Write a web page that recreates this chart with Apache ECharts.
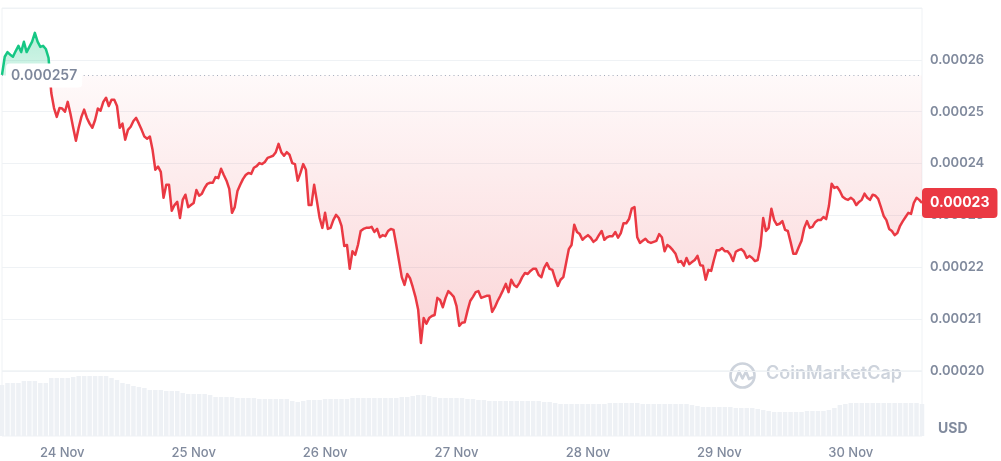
<!DOCTYPE html>
<html>
<head>
<meta charset="utf-8">
<script src="https://cdn.jsdelivr.net/npm/echarts@6/dist/echarts.min.js"></script>
<style>
  html, body { margin: 0; padding: 0; background: #ffffff; }
  #chart { width: 1001px; height: 461px; }
</style>
</head>
<body>
<div id="chart"></div>
<script>
// ---- Data ----
const tickLabels = ['24 Nov', '25 Nov', '26 Nov', '27 Nov', '28 Nov', '29 Nov', '30 Nov'];
const tickHours = [24, 48, 72, 96, 120, 144, 168];   // hours since 23 Nov 00:00
const startHour = 13;          // first sample: 23 Nov ~13:00
const endHour = 181;           // last sample: 30 Nov ~13:00
const priceStepHours = 0.5;    // one price sample every 30 minutes
const openPrice = 0.000257;    // reference (opening) price, dotted line

const prices = [
  2571e-7, 2606e-7, 2615e-7, 2610e-7, 2606e-7, 2617e-7, 2627e-7, 2615e-7, 2635e-7, 2615e-7,
  2625e-7, 2635e-7, 2652e-7, 2635e-7, 2625e-7, 2627e-7, 2621e-7, 2604e-7, 2536e-7, 2507e-7,
  2490e-7, 2507e-7, 2506e-7, 2500e-7, 2519e-7, 2496e-7, 2469e-7, 2444e-7, 2469e-7, 2490e-7,
  2504e-7, 2488e-7, 2477e-7, 2469e-7, 2484e-7, 2506e-7, 2502e-7, 2519e-7, 2527e-7, 2511e-7,
  2523e-7, 2523e-7, 2511e-7, 2469e-7, 2477e-7, 2446e-7, 2465e-7, 2471e-7, 2482e-7, 2488e-7,
  2477e-7, 2465e-7, 2452e-7, 2448e-7, 2452e-7, 2426e-7, 2388e-7, 2394e-7, 2384e-7, 2334e-7,
  2359e-7, 2359e-7, 2309e-7, 2320e-7, 2326e-7, 2295e-7, 2330e-7, 2340e-7, 2316e-7, 2320e-7,
  2324e-7, 2349e-7, 2338e-7, 2342e-7, 2353e-7, 2361e-7, 2363e-7, 2363e-7, 2374e-7, 2372e-7,
  2390e-7, 2378e-7, 2367e-7, 2351e-7, 2305e-7, 2316e-7, 2347e-7, 2359e-7, 2370e-7, 2378e-7,
  2382e-7, 2380e-7, 2392e-7, 2395e-7, 2401e-7, 2399e-7, 2403e-7, 2411e-7, 2413e-7, 2415e-7,
  2422e-7, 2438e-7, 2422e-7, 2415e-7, 2422e-7, 2417e-7, 2401e-7, 2399e-7, 2367e-7, 2382e-7,
  2399e-7, 2388e-7, 2320e-7, 2320e-7, 2359e-7, 2328e-7, 2295e-7, 2276e-7, 2305e-7, 2274e-7,
  2276e-7, 2291e-7, 2301e-7, 2295e-7, 2280e-7, 2241e-7, 2243e-7, 2197e-7, 2231e-7, 2224e-7,
  2243e-7, 2270e-7, 2274e-7, 2276e-7, 2276e-7, 2278e-7, 2268e-7, 2274e-7, 2258e-7, 2262e-7,
  2260e-7, 2270e-7, 2274e-7, 2272e-7, 2243e-7, 2212e-7, 2181e-7, 2166e-7, 2187e-7, 2179e-7,
  2162e-7, 2143e-7, 2118e-7, 2054e-7, 2102e-7, 2091e-7, 2102e-7, 2106e-7, 2108e-7, 2141e-7,
  2137e-7, 2123e-7, 2141e-7, 2154e-7, 2149e-7, 2143e-7, 2125e-7, 2087e-7, 2093e-7, 2094e-7,
  2116e-7, 2135e-7, 2143e-7, 2152e-7, 2154e-7, 2141e-7, 2143e-7, 2145e-7, 2145e-7, 2114e-7,
  2123e-7, 2135e-7, 2145e-7, 2156e-7, 2168e-7, 2152e-7, 2176e-7, 2166e-7, 2162e-7, 2170e-7,
  2181e-7, 2189e-7, 2187e-7, 2193e-7, 2197e-7, 2197e-7, 2185e-7, 2181e-7, 2199e-7, 2208e-7,
  2197e-7, 2195e-7, 2178e-7, 2164e-7, 2176e-7, 2181e-7, 2208e-7, 2235e-7, 2243e-7, 2282e-7,
  2268e-7, 2264e-7, 2253e-7, 2258e-7, 2262e-7, 2257e-7, 2249e-7, 2253e-7, 2262e-7, 2270e-7,
  2253e-7, 2258e-7, 2260e-7, 2260e-7, 2268e-7, 2257e-7, 2266e-7, 2285e-7, 2285e-7, 2293e-7,
  2313e-7, 2316e-7, 2258e-7, 2247e-7, 2251e-7, 2255e-7, 2249e-7, 2247e-7, 2249e-7, 2251e-7,
  2264e-7, 2258e-7, 2231e-7, 2243e-7, 2239e-7, 2233e-7, 2226e-7, 2210e-7, 2212e-7, 2203e-7,
  2218e-7, 2206e-7, 2210e-7, 2214e-7, 2222e-7, 2204e-7, 2203e-7, 2176e-7, 2195e-7, 2193e-7,
  2214e-7, 2233e-7, 2233e-7, 2237e-7, 2231e-7, 2231e-7, 2224e-7, 2212e-7, 2230e-7, 2233e-7,
  2235e-7, 2230e-7, 2218e-7, 2222e-7, 2218e-7, 2212e-7, 2214e-7, 2241e-7, 2295e-7, 2270e-7,
  2276e-7, 2313e-7, 2291e-7, 2282e-7, 2284e-7, 2289e-7, 2272e-7, 2270e-7, 2249e-7, 2226e-7,
  2226e-7, 2239e-7, 2251e-7, 2276e-7, 2289e-7, 2276e-7, 2278e-7, 2287e-7, 2291e-7, 2291e-7,
  2297e-7, 2293e-7, 2318e-7, 2361e-7, 2353e-7, 2355e-7, 2347e-7, 2336e-7, 2332e-7, 2330e-7,
  2334e-7, 2330e-7, 2320e-7, 2326e-7, 2330e-7, 2342e-7, 2334e-7, 2330e-7, 2340e-7, 2338e-7,
  2332e-7, 2316e-7, 2299e-7, 2291e-7, 2274e-7, 2270e-7, 2262e-7, 2266e-7, 2280e-7, 2289e-7,
  2297e-7, 2305e-7, 2303e-7, 2324e-7, 2334e-7, 2330e-7, 2324e-7
];

const volumeStepHours = 1;     // one volume bar per hour (relative units, estimated)
const volumes = [
  51, 53, 53, 53, 55, 55, 55, 53, 53, 58, 58, 58, 58, 59, 60, 60, 60, 60, 60, 60,
  58, 56, 53, 52, 50, 49, 48, 46, 46, 46, 45, 45, 45, 43, 42, 42, 42, 42, 41, 39,
  39, 39, 39, 38, 38, 38, 38, 37, 37, 37, 37, 37, 37, 35, 34, 35, 36, 36, 36, 37,
  37, 37, 37, 37, 38, 38, 38, 38, 38, 38, 38, 38, 38, 39, 39, 40, 41, 41, 40, 39,
  38, 38, 38, 38, 38, 37, 37, 36, 36, 35, 35, 35, 35, 35, 35, 35, 35, 35, 35, 34,
  34, 33, 32, 32, 32, 32, 32, 32, 32, 32, 32, 33, 33, 33, 33, 33, 33, 32, 32, 32,
  32, 32, 32, 32, 32, 32, 31, 30, 29, 29, 29, 29, 29, 29, 28, 28, 28, 28, 27, 26,
  25, 24, 24, 24, 24, 24, 24, 25, 25, 25, 25, 26, 28, 31, 32, 33, 33, 33, 33, 33,
  33, 33, 33, 33, 33, 33, 33, 33, 32
];

// ---- Colours ----
const RED = '#ea3943';
const GREEN = '#16c784';
const TEXT = '#808a9d';
const GRID = '#eff2f5';
const FONT = 'Inter, "Noto Sans", sans-serif';

// ---- Derived series data ----
const priceData = prices.map((p, i) => [startHour + i * priceStepHours, p]);
const belowData = prices.map((p, i) => [startHour + i * priceStepHours, Math.min(p, openPrice)]);
const aboveData = prices.map((p, i) => [startHour + i * priceStepHours, Math.max(p, openPrice)]);
const volumeData = volumes.map((v, i) => [startHour + i * volumeStepHours, v]);
const lastPrice = prices[prices.length - 1];

const chart = echarts.init(document.getElementById('chart'), null, { renderer: 'canvas' });

const option = {
  animation: false,
  backgroundColor: '#ffffff',
  textStyle: { fontFamily: FONT },
  grid: [
    { left: 2, right: 79, top: 8, bottom: 90, show: true, borderColor: GRID, borderWidth: 1 },
    { left: 2, right: 79, top: 371, bottom: 25, show: true, borderColor: GRID, borderWidth: 1 }
  ],
  xAxis: [
    { type: 'value', gridIndex: 0, min: startHour, max: endHour, show: false },
    {
      type: 'value', gridIndex: 1, min: startHour, max: endHour,
      axisLine: { show: false }, axisTick: { show: false }, splitLine: { show: false },
      axisLabel: {
        customValues: tickHours,
        formatter: v => tickLabels[tickHours.indexOf(v)] || '',
        color: TEXT, fontSize: 13, fontWeight: 500, margin: 11, fontFamily: FONT
      }
    }
  ],
  yAxis: [
    {
      type: 'value', gridIndex: 0, position: 'right',
      min: 0.0002, max: 0.00027, interval: 0.00001,
      axisLine: { show: false }, axisTick: { show: false },
      splitLine: { lineStyle: { color: GRID, width: 1 } },
      axisLabel: {
        margin: 8, color: TEXT, fontSize: 13, fontWeight: 600, fontFamily: FONT,
        formatter: v => (v > 0.000265 ? '' : v.toFixed(5))
      }
    },
    { type: 'value', gridIndex: 1, min: 0, max: 65, show: false }
  ],
  graphic: [
    {
      type: 'group', left: 728, top: 361, silent: true,
      children: [
        { type: 'circle', shape: { cx: 14, cy: 14, r: 12 },
          style: { fill: 'none', stroke: '#cdd3dc', lineWidth: 2.6 } },
        { type: 'polyline', shape: { points: [[7, 19], [10.5, 10], [14, 17], [17.5, 10], [20.5, 17.5], [24, 16]] },
          style: { fill: 'none', stroke: '#cdd3dc', lineWidth: 2.6, lineJoin: 'round', lineCap: 'round' } }
      ]
    },
    {
      type: 'text', left: 766, top: 365, silent: true,
      style: { text: 'CoinMarketCap', fill: '#cdd3dc', font: '600 18px ' + FONT }
    },
    {
      type: 'text', left: 938, top: 422, silent: true,
      style: { text: 'USD', fill: TEXT, font: '700 14px ' + FONT }
    }
  ],
  series: [
    {
      name: 'volume', type: 'bar', xAxisIndex: 1, yAxisIndex: 1,
      data: volumeData, barWidth: 4.5, silent: true,
      itemStyle: { color: '#eef1f5' }
    },
    {
      name: 'below', type: 'line', xAxisIndex: 0, yAxisIndex: 0,
      data: belowData, showSymbol: false, symbol: 'none', silent: true, z: 1,
      lineStyle: { width: 0, opacity: 0 },
      areaStyle: {
        origin: openPrice,
        color: new echarts.graphic.LinearGradient(0, 0, 0, 1, [
          { offset: 0, color: 'rgba(234,57,67,0.04)' },
          { offset: 1, color: 'rgba(234,57,67,0.30)' }
        ])
      }
    },
    {
      name: 'above', type: 'line', xAxisIndex: 0, yAxisIndex: 0,
      data: aboveData, showSymbol: false, symbol: 'none', silent: true, z: 1,
      lineStyle: { width: 0, opacity: 0 },
      areaStyle: {
        origin: openPrice,
        color: new echarts.graphic.LinearGradient(0, 0, 0, 1, [
          { offset: 0, color: 'rgba(22,199,132,0.45)' },
          { offset: 1, color: 'rgba(22,199,132,0.25)' }
        ])
      }
    },
    {
      name: 'price', type: 'line', xAxisIndex: 0, yAxisIndex: 0,
      data: priceData, showSymbol: false, symbol: 'none', z: 3,
      lineStyle: { width: 2.5, join: 'round', color: RED },
      markLine: {
        silent: true, symbol: 'none', z: 5, precision: 10,
        data: [
          {
            yAxis: openPrice,
            lineStyle: { color: '#a3abbb', width: 1, type: [1, 3.3] },
            label: {
              show: true, position: 'insideStart', distance: [4, 0],
              verticalAlign: 'middle', align: 'left',
              formatter: '0.000257',
              color: '#7d879b', fontSize: 14, fontWeight: 600, fontFamily: FONT,
              backgroundColor: '#ffffff', padding: [5, 5, 5, 5], borderRadius: 4
            }
          },
          {
            yAxis: lastPrice,
            lineStyle: { color: 'rgba(0,0,0,0)', width: 0 },
            label: {
              show: true, position: 'end', distance: 0,
              verticalAlign: 'middle', align: 'left',
              formatter: lastPrice.toFixed(5),
              color: '#ffffff', fontSize: 14, fontWeight: 700, lineHeight: 14, fontFamily: FONT,
              backgroundColor: RED, padding: [8, 8, 8, 8], borderRadius: 4
            }
          }
        ]
      }
    }
  ]
};

chart.setOption(option);

// Colour the price line green above the opening price and red below it,
// using the pixel position of openPrice given by the library's own y scale.
const baseY = chart.convertToPixel({ yAxisIndex: 0 }, openPrice);
const H = chart.getHeight();
const stop = baseY / H;
chart.setOption({
  series: [{}, {}, {}, {
    lineStyle: {
      color: new echarts.graphic.LinearGradient(0, 0, 0, H, [
        { offset: 0, color: GREEN },
        { offset: stop, color: GREEN },
        { offset: stop, color: RED },
        { offset: 1, color: RED }
      ], true)
    }
  }]
});
</script>
</body>
</html>
